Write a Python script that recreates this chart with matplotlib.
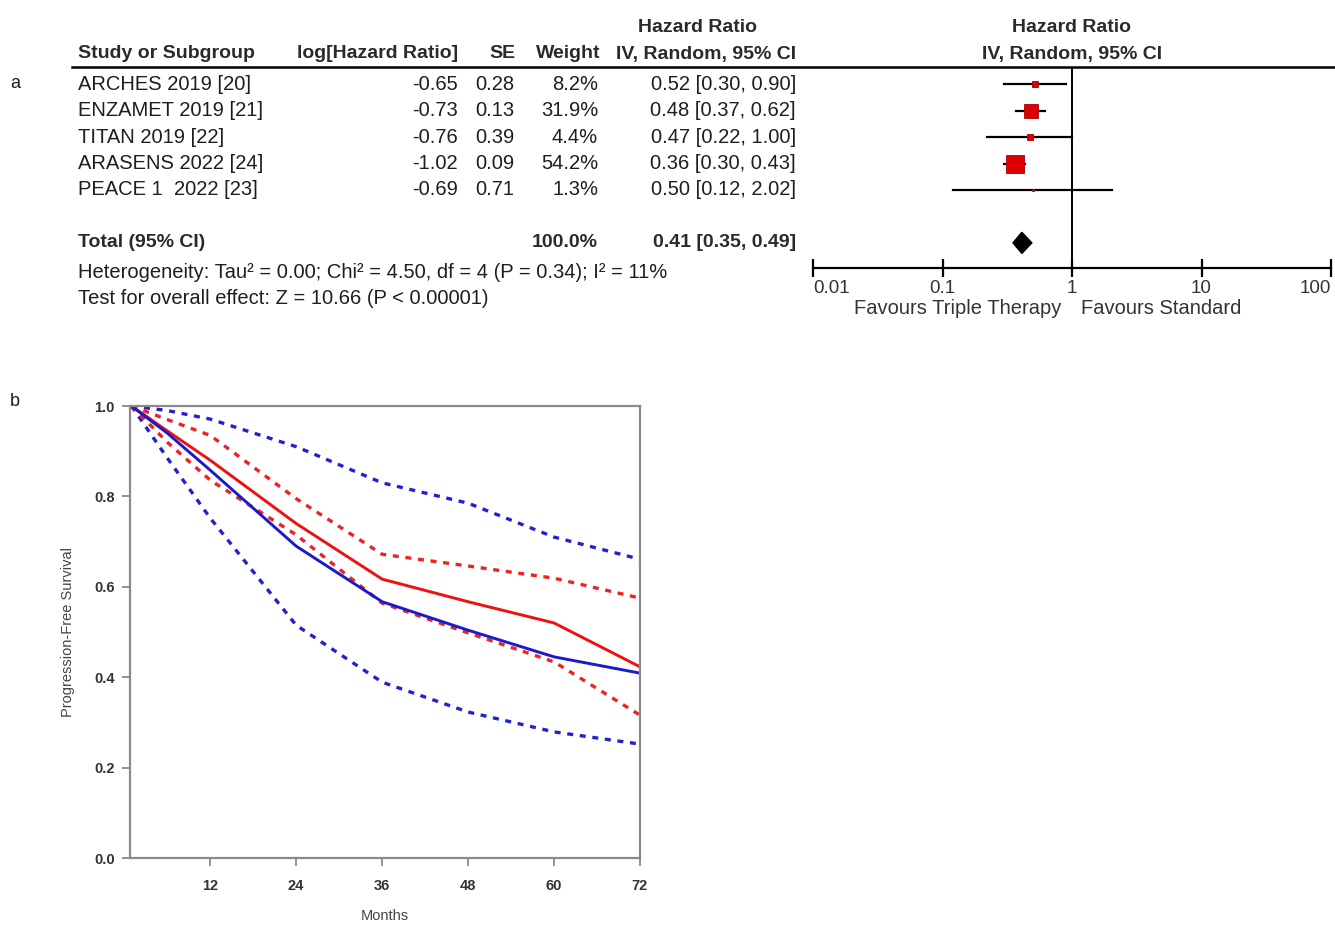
import matplotlib.pyplot as plt
from matplotlib.lines import Line2D
from matplotlib.transforms import blended_transform_factory

plt.rcParams['font.family'] = ['Liberation Sans', 'DejaVu Sans']

W, H = 1335, 925

# ---- forest plot data
studies = ["ARCHES 2019 [20]", "ENZAMET 2019 [21]", "TITAN 2019 [22]",
           "ARASENS 2022 [24]", "PEACE 1  2022 [23]"]
log_hr = ["-0.65", "-0.73", "-0.76", "-1.02", "-0.69"]
se = ["0.28", "0.13", "0.39", "0.09", "0.71"]
weight = [8.2, 31.9, 4.4, 54.2, 1.3]
hr = [0.52, 0.48, 0.47, 0.36, 0.50]
ci_lo = [0.30, 0.37, 0.22, 0.30, 0.12]
ci_hi = [0.90, 0.62, 1.00, 0.43, 2.02]
total_hr, total_lo, total_hi = 0.41, 0.35, 0.49

# ---- survival curves (months vs PFS)
months = [1, 6, 12, 24, 36, 48, 60, 72]
red_mid = [1.0, 0.945, 0.88, 0.74, 0.617, 0.567, 0.52, 0.423]
red_up = [1.0, 0.97, 0.935, 0.795, 0.672, 0.646, 0.619, 0.575]
red_lo = [1.0, 0.92, 0.836, 0.715, 0.564, 0.498, 0.434, 0.316]
blue_mid = [1.0, 0.94, 0.858, 0.69, 0.567, 0.504, 0.445, 0.409]
blue_up = [1.0, 0.99, 0.971, 0.91, 0.83, 0.785, 0.71, 0.661]
blue_lo = [1.0, 0.885, 0.752, 0.515, 0.389, 0.323, 0.279, 0.252]

fig = plt.figure(figsize=(W / 100, H / 100), dpi=100)
txt = '#1e1e1e'


def ft(x, y, s, **kw):
    kw.setdefault('color', txt)
    kw.setdefault('fontsize', 14.5)
    fig.text(x / W, 1 - y / H, s, **kw)


# forest axes
axf = fig.add_axes([813 / W, 1 - 268 / H, (1331 - 813) / W, (268 - 67) / H])
axf.set_xscale('log')
axf.set_xlim(0.01, 100)
axf.set_ylim(6.95, -0.65)
for s in ['top', 'right', 'left']:
    axf.spines[s].set_visible(False)
axf.spines['bottom'].set_linewidth(1.6)
axf.set_yticks([])
axf.set_xticks([0.01, 0.1, 1, 10, 100])
axf.set_xticklabels(['0.01', '0.1', '1', '10', '100'])
axf.minorticks_off()
axf.tick_params(axis='x', direction='inout', length=13, width=1.6,
                labelsize=13.5, labelcolor='#333333', pad=2)
labs = axf.get_xticklabels()
labs[0].set_ha('left')
labs[-1].set_ha('right')
axf.axvline(1, color='black', lw=1.4)

rows = list(range(len(studies)))
for i in rows:
    axf.plot([ci_lo[i], ci_hi[i]], [i, i], color='black', lw=1.6, zorder=2)
    side = 2.4 * weight[i] ** 0.5 * 0.72
    axf.plot(hr[i], i, marker='s', ms=side, color='#dd0000',
             mec='#aa0000', mew=0.6, zorder=3)
ty = 6
dh = 0.4
axf.fill([total_lo, total_hr, total_hi, total_hr],
         [ty, ty - dh, ty, ty + dh], color='black', zorder=3)

fig.add_artist(Line2D([72 / W, 1], [1 - 67 / H, 1 - 67 / H], color='black', lw=1.8))

# table text
tr = blended_transform_factory(fig.transFigure, axf.transData)
bold = dict(fontweight='bold', color='#2a2a2a', fontsize=14)
ft(78, 54, "Study or Subgroup", va='center', ha='left', **bold)
ft(458, 54, "log[Hazard Ratio]", va='center', ha='right', **bold)
ft(515, 54, "SE", va='center', ha='right', **bold)
ft(600, 54, "Weight", va='center', ha='right', **bold)
ft(796, 54, "IV, Random, 95% CI", va='center', ha='right', **bold)
ft(697, 27, "Hazard Ratio", va='center', ha='center', **bold)
ft(1072, 27, "Hazard Ratio", va='center', ha='center', **bold)
ft(1072, 54, "IV, Random, 95% CI", va='center', ha='center', **bold)

for i in rows:
    kw = dict(transform=tr, va='center', fontsize=14.5, color=txt)
    fig.text(78 / W, i, studies[i], ha='left', **kw)
    fig.text(458 / W, i, log_hr[i], ha='right', **kw)
    fig.text(514 / W, i, se[i], ha='right', **kw)
    fig.text(598 / W, i, f"{weight[i]:.1f}%", ha='right', **kw)
    fig.text(796 / W, i, f"{hr[i]:.2f} [{ci_lo[i]:.2f}, {ci_hi[i]:.2f}]", ha='right', **kw)

kwb = dict(transform=tr, va='center', fontsize=14, fontweight='bold', color='#2a2a2a')
fig.text(78 / W, ty, "Total (95% CI)", ha='left', **kwb)
fig.text(598 / W, ty, "100.0%", ha='right', **kwb)
fig.text(796 / W, ty, f"{total_hr:.2f} [{total_lo:.2f}, {total_hi:.2f}]", ha='right', **kwb)

ft(78, 272, "Heterogeneity: Tau² = 0.00; Chi² = 4.50, df = 4 (P = 0.34); I² = 11%", va='center')
ft(78, 298, "Test for overall effect: Z = 10.66 (P < 0.00001)", va='center')
ft(958, 309, "Favours Triple Therapy", va='center', ha='center', color='#333333')
ft(1161, 309, "Favours Standard", va='center', ha='center', color='#333333')

ft(15, 83, "a", va='center', ha='center', fontsize=13)
ft(15, 402, "b", va='center', ha='center', fontsize=13)

# survival axes
axk = fig.add_axes([130 / W, 1 - 858 / H, (640 - 130) / W, (858 - 406) / H])
dot = (0, (1.8, 2.0))
axk.plot(months, blue_up, color='#2222cc', lw=2.4, ls=dot)
axk.plot(months, blue_lo, color='#2222cc', lw=2.4, ls=dot)
axk.plot(months, red_up, color='#ee2222', lw=2.4, ls=dot)
axk.plot(months, red_lo, color='#ee2222', lw=2.4, ls=dot)
axk.plot(months, red_mid, color='#ee1111', lw=2.1)
axk.plot(months, blue_mid, color='#1a1acc', lw=2.1)
axk.set_xlim(0.8, 72)
axk.set_ylim(0, 1)
axk.set_xticks([12, 24, 36, 48, 60, 72])
axk.set_yticks([0, 0.2, 0.4, 0.6, 0.8, 1.0])
axk.set_yticklabels(['0.0', '0.2', '0.4', '0.6', '0.8', '1.0'])
for s in axk.spines.values():
    s.set_color('#8a8a8a')
    s.set_linewidth(1.6)
axk.tick_params(direction='out', length=6, width=1.3, color='#8a8a8a',
                labelsize=10.5, labelcolor='#333333', pad=5)
for lab in axk.get_xticklabels() + axk.get_yticklabels():
    lab.set_fontweight('bold')
axk.tick_params(axis='x', pad=9)
axk.set_xlabel("Months", fontsize=10.5, color='#444444', labelpad=12)
axk.set_ylabel("Progression-Free Survival", fontsize=10.5, color='#444444', labelpad=14)

fig.savefig("out.png", dpi=100)
